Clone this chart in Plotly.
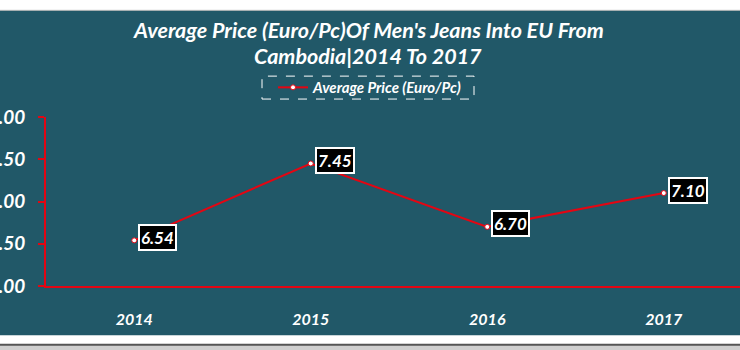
import plotly.graph_objects as go

years = ["2014", "2015", "2016", "2017"]
avg_price = [6.54, 7.45, 6.70, 7.10]
value_labels = ["6.54", "7.45", "6.70", "7.10"]
y_ticks = [6.0, 6.5, 7.0, 7.5, 8.0]
y_tick_labels = ["6.00", "6.50", "7.00", "7.50", "8.00"]
title_lines = ["Average Price (Euro/Pc)Of Men's Jeans Into EU From", "Cambodia|2014 To 2017"]

TEAL = "#215868"
RED = "#e30613"
FONT = "Lato"

W, H = 740, 350
L, T, B = 46, 117, 63.5
PW = W - L
PH = H - T - B


def px(x):
    return (x - L) / PW


def py(y):
    return (H - B - y) / PH


fig = go.Figure()
fig.add_trace(go.Scatter(
    x=years, y=avg_price, mode="lines+markers",
    name="Average Price (Euro/Pc)",
    line=dict(color=RED, width=2),
    marker=dict(size=5, color="white", line=dict(color=RED, width=1)),
))

for i, (yv, lab) in enumerate(zip(avg_price, value_labels)):
    fig.add_annotation(
        x=i, y=yv, xref="x", yref="y", text=lab, showarrow=False,
        xanchor="left", yanchor="middle", xshift=4, yshift=3,
        bgcolor="black", bordercolor="white", borderwidth=2, borderpad=1,
        font=dict(family=FONT, size=17, color="white", weight="bold", style="italic"),
    )

for line_text, cy in zip(title_lines, [30, 55.5]):
    fig.add_annotation(
        x=px(368), y=py(cy), xref="paper", yref="paper", text=line_text, showarrow=False,
        xanchor="center", yanchor="middle",
        font=dict(family=FONT, size=21.5, color="white", weight="bold", style="italic"),
    )

shapes = [
    dict(type="rect", xref="paper", yref="paper", x0=px(-5), x1=px(W + 5), y0=py(-5), y1=py(10),
         fillcolor="white", line=dict(width=0), layer="below"),
    dict(type="line", xref="paper", yref="paper", x0=px(0), x1=px(W), y0=py(10), y1=py(10),
         line=dict(color="#bbbbbb", width=1), layer="below"),
    dict(type="rect", xref="paper", yref="paper", x0=px(-5), x1=px(W + 5), y0=py(H + 5), y1=py(336),
         fillcolor="white", line=dict(width=0), layer="below"),
    dict(type="rect", xref="paper", yref="paper", x0=px(-5), x1=px(W + 5), y0=py(H + 5), y1=py(345),
         fillcolor="#cfcfcf", line=dict(width=0), layer="below"),
    dict(type="line", xref="paper", yref="paper", x0=px(0), x1=px(W), y0=py(345.5), y1=py(345.5),
         line=dict(color="#555555", width=2), layer="below"),
    dict(type="rect", xref="paper", yref="paper", x0=px(262), x1=px(474), y0=py(99), y1=py(76),
         line=dict(color="white", width=1, dash="dash")),
]

fig.update_layout(
    width=W, height=H,
    margin=dict(l=L, r=0, t=T, b=B, autoexpand=False),
    paper_bgcolor=TEAL, plot_bgcolor=TEAL,
    shapes=shapes,
    showlegend=True,
    legend=dict(
        orientation="h", x=px(370), xanchor="center", y=py(87.5), yanchor="middle",
        bgcolor="rgba(0,0,0,0)", borderwidth=0,
        font=dict(family=FONT, size=15, color="white", weight="bold", style="italic"),
        itemwidth=30,
    ),
    xaxis=dict(
        type="category", range=[-0.5, -0.5 + PW / 176.5],
        showline=True, linecolor=RED, linewidth=2, showgrid=False, zeroline=False,
        ticks="", ticklabelstandoff=18,
        tickfont=dict(family=FONT, size=16, color="white", weight="bold", style="italic"),
    ),
    yaxis=dict(
        range=[6, 8], tickvals=y_ticks, ticktext=y_tick_labels,
        showline=True, linecolor=RED, linewidth=2, showgrid=False, zeroline=False,
        ticks="outside", ticklen=6, tickcolor=RED, tickwidth=2, ticklabelstandoff=9,
        tickfont=dict(family=FONT, size=19, color="white", weight="bold", style="italic"),
    ),
)

fig.write_html("out.html")
